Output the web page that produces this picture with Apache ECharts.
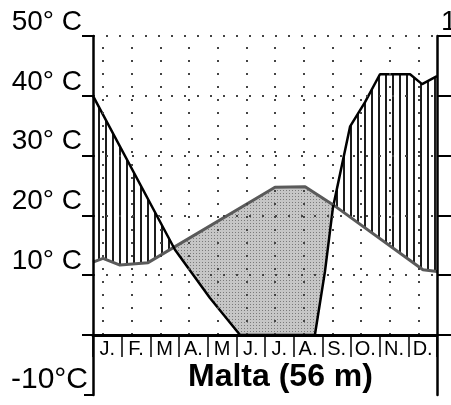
<!DOCTYPE html>
<html>
<head>
<meta charset="utf-8">
<script src="https://cdn.jsdelivr.net/npm/echarts@6/dist/echarts.min.js"></script>
<style>
html, body { margin: 0; padding: 0; background: #fff; }
#chart { width: 451px; height: 405px; }
</style>
</head>
<body>
<div id="chart"></div>
<script>
// climate diagram Malta
var months = ["J.", "F.", "M", "A.", "M", "J.", "J.", "A.", "S.", "O.", "N.", "D."];
// temperature: position in months, value in °C
var tempPos = [0, 0.35, 0.94, 1.92, 6.35, 7.4, 8.37, 11.51, 12];
var tempVal = [12.2, 12.8, 11.7, 12.1, 24.7, 24.8, 21.8, 10.9, 10.6];
// precipitation: position in months, value in mm (10°C = 20 mm)
var precPos = [0, 2.86, 4.08, 5.13, 7.74, 8.09, 8.37, 8.97, 9.49, 10.01, 11.06, 11.48, 12];
var precVal = [80, 28.5, 12.4, 0, 0, 21.1, 42.6, 69.8, 77.9, 87.2, 87.2, 83.9, 86.6];
// tick labels
var tempLabels = ["", "10° C", "20° C", "30° C", "40° C", "50° C"];
var lowLabel = "-10°C";
var precTopLabel = "100";

var colOffset = 0.35; // dotted columns inside each month

function makePattern(w, h, draw) {
  var c = document.createElement("canvas");
  c.width = w;
  c.height = h;
  draw(c.getContext("2d"));
  return { image: c, repeat: "repeat" };
}
var hatch = makePattern(7, 8, function (ctx) {
  ctx.fillStyle = "#1c1c1c";
  ctx.fillRect(0, 0, 2, 8);
});
var stipple = makePattern(3, 3, function (ctx) {
  ctx.fillStyle = "#c6c6c6";
  ctx.fillRect(0, 0, 3, 3);
  ctx.fillStyle = "#7a7a7a";
  ctx.fillRect(1, 1, 1, 1);
});

function interp(xs, ys, x) {
  for (var i = 1; i < xs.length; i++) {
    if (x <= xs[i]) {
      var t = (x - xs[i - 1]) / (xs[i] - xs[i - 1]);
      return ys[i - 1] + t * (ys[i] - ys[i - 1]);
    }
  }
  return ys[ys.length - 1];
}
var precC = precVal.map(function (v) { return v / 2; });
function tAt(x) { return interp(tempPos, tempVal, x); }
function pAt(x) { return interp(precPos, precC, x); }

// all x where either curve bends, plus their crossings
function fillXs() {
  var xs = tempPos.concat(precPos).sort(function (a, b) { return a - b; })
    .filter(function (v, i, a) { return i === 0 || v !== a[i - 1]; });
  var out = [];
  for (var i = 0; i < xs.length; i++) {
    if (i > 0) {
      var x0 = xs[i - 1], x1 = xs[i];
      var d0 = pAt(x0) - tAt(x0), d1 = pAt(x1) - tAt(x1);
      if (d0 * d1 < 0) out.push(x0 + (x1 - x0) * d0 / (d0 - d1));
    }
    out.push(xs[i]);
  }
  return out;
}

function renderFills(params, api) {
  if (params.dataIndex !== 0) return;
  var xs = fillXs();
  var top = xs.map(function (x) { return api.coord([x, Math.max(pAt(x), tAt(x))]); });
  var tb = xs.slice().reverse().map(function (x) { return api.coord([x, tAt(x)]); });
  var pb = xs.slice().reverse().map(function (x) { return api.coord([x, pAt(x)]); });
  return {
    type: "group",
    children: [
      { type: "polygon", shape: { points: top.concat(tb) }, style: { fill: hatch } },
      { type: "polygon", shape: { points: top.concat(pb) }, style: { fill: stipple } }
    ]
  };
}

var font = "Liberation Sans";
var dots = { type: [2, 11], color: "#444", width: 2 };

var option = {
  animation: false,
  grid: [
    { left: 93, right: 14, top: 36, bottom: 70, containLabel: false, outerBoundsMode: "none" },
    { left: 93, right: 14, top: 335, bottom: 10, containLabel: false, outerBoundsMode: "none" }
  ],
  xAxis: [
    {
      type: "category",
      gridIndex: 0,
      data: months,
      boundaryGap: true,
      z: 6,
      axisLine: { show: true, lineStyle: { color: "#000", width: 3 } },
      axisTick: { show: true, interval: 0, length: 22, lineStyle: { color: "#000", width: 1.5 } },
      axisLabel: { interval: 0, fontSize: 20, color: "#000", fontFamily: font, margin: 4 },
      splitLine: { show: false }
    },
    { type: "value", gridIndex: 0, min: 0, max: 12, show: false },
    { type: "value", gridIndex: 1, min: 0, max: 12, show: false }
  ],
  yAxis: [
    {
      type: "value",
      gridIndex: 0,
      min: 0,
      max: 50,
      interval: 10,
      z: 5,
      axisLine: { show: true, lineStyle: { color: "#000", width: 2.5 } },
      axisTick: { show: true, length: 11, lineStyle: { color: "#000", width: 2 } },
      axisLabel: {
        formatter: function (v) { return tempLabels[v / 10]; },
        fontSize: 28, color: "#000", fontFamily: font, margin: 11,
        verticalAlign: "bottom", lineHeight: 28
      },
      splitLine: { show: true, lineStyle: dots }
    },
    {
      type: "value",
      gridIndex: 0,
      position: "right",
      min: 0,
      max: 100,
      interval: 20,
      z: 5,
      axisLine: { show: true, lineStyle: { color: "#000", width: 2.5 } },
      axisTick: { show: true, length: 14, lineStyle: { color: "#000", width: 2 } },
      axisLabel: {
        formatter: function (v) { return v === 100 ? precTopLabel : ""; },
        fontSize: 28, color: "#000", fontFamily: font, margin: 4, align: "left",
        verticalAlign: "bottom", lineHeight: 28
      },
      splitLine: { show: false }
    },
    {
      type: "value",
      gridIndex: 1,
      min: -10,
      max: 0,
      interval: 10,
      axisLine: { show: true, lineStyle: { color: "#000", width: 2.5 } },
      axisTick: { show: true, length: 9, lineStyle: { color: "#000", width: 2 } },
      axisLabel: {
        formatter: function (v) { return v === -10 ? lowLabel : ""; },
        fontSize: 30, color: "#000", fontFamily: font, margin: 5,
        verticalAlign: "bottom", lineHeight: 30
      },
      splitLine: { show: false }
    },
    {
      type: "value",
      gridIndex: 1,
      position: "right",
      min: -10,
      max: 0,
      axisLine: { show: true, lineStyle: { color: "#000", width: 2.5 } },
      axisTick: { show: false },
      axisLabel: { show: false },
      splitLine: { show: false }
    }
  ],
  title: {
    text: "Malta (56 m)",
    left: 188,
    top: 361,
    padding: 0,
    textStyle: { fontSize: 32, fontWeight: "bold", color: "#000", fontFamily: font }
  },
  series: [
    {
      type: "custom",
      xAxisIndex: 1,
      yAxisIndex: 0,
      z: 2,
      clip: false,
      renderItem: renderFills,
      data: [[0, 0]]
    },
    {
      // dotted month columns
      type: "line",
      xAxisIndex: 1,
      yAxisIndex: 0,
      z: 3,
      data: [],
      markLine: {
        silent: true,
        symbol: ["none", "none"],
        label: { show: false },
        lineStyle: dots,
        data: months.map(function (m, i) { return { xAxis: i + colOffset }; })
      }
    },
    {
      type: "line",
      xAxisIndex: 1,
      yAxisIndex: 0,
      z: 4,
      symbol: "none",
      lineStyle: { color: "#5a5a5a", width: 3 },
      data: tempPos.map(function (x, i) { return [x, tempVal[i]]; })
    },
    {
      type: "line",
      xAxisIndex: 1,
      yAxisIndex: 1,
      z: 4,
      symbol: "none",
      lineStyle: { color: "#000", width: 2.5 },
      data: precPos.map(function (x, i) { return [x, precVal[i]]; })
    }
  ]
};

var myChart = echarts.init(document.getElementById("chart"));
myChart.setOption(option);
window.addEventListener("resize", function () {
  myChart.resize();
});
</script>
</body>
</html>
